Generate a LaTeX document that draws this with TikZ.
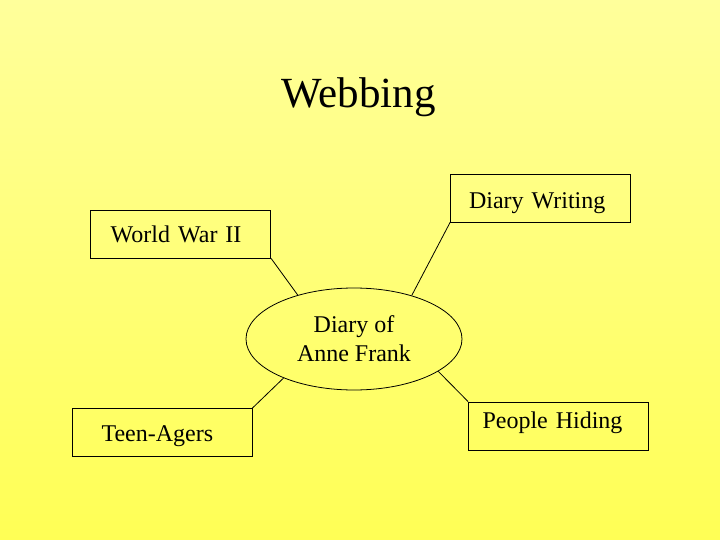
\documentclass[tikz,border=0pt]{standalone}
\usepackage{fontspec}
\setmainfont{Liberation Serif}
\usetikzlibrary{shapes.geometric}
\definecolor{slidetop}{RGB}{255,255,155}
\definecolor{slidebottom}{RGB}{255,255,85}

\begin{document}
\begin{tikzpicture}[
        x=1pt, y=-1pt,
        % Estilos das caixas
        topicbox/.style={rectangle, draw=black, line width=0.8pt, minimum width=180pt, minimum height=48pt, inner ysep=2pt, align=left, font=\fontsize{24}{29}\selectfont},
        centerbox/.style={ellipse, draw=black, line width=0.8pt, minimum width=216pt, minimum height=102pt, inner sep=0pt, align=center, font=\fontsize{24}{29}\selectfont},
        titlebox/.style={font=\fontsize{43}{50}\selectfont, inner sep=0pt},
        % Estilo das ligacoes
        spoke/.style={draw=black, line width=0.8pt}
    ]

    % Fundo do slide
    \shade[top color=slidetop, bottom color=slidebottom] (0,0) rectangle (720,540);
    \useasboundingbox (0,0) rectangle (720,540);

    % Titulo
    \node[titlebox, anchor=base] (title) at (358.5,108) {Webbing};

    % Topico central
    \node[centerbox] (story) at (354,339) {Diary of\\Anne Frank};

    % Caixas em volta
    \node[topicbox, inner xsep=18.5pt, text width=143pt, text height=26pt, text depth=6pt] (diary) at (540.5,198) {Diary Writing};
    \node[topicbox, inner xsep=20pt, text width=140pt, text height=24pt, text depth=6pt] (war) at (180.7,234) {World War II};
    \node[topicbox, inner xsep=29.5pt, text width=121pt, text height=23pt, text depth=6pt] (teens) at (162,432.5) {Teen-Agers};
    \node[topicbox, inner xsep=14pt, text width=152pt, text height=14pt, text depth=10pt] (hiding) at (558.5,426) {People Hiding};

    % Ligacoes
    \draw[spoke] (war.south east) -- (story.142);
    \draw[spoke] (diary.south west) -- (story.37);
    \draw[spoke] (teens.north east) -- (story.209);
    \draw[spoke] (hiding.north west) -- (story.339);

\end{tikzpicture}
\end{document}
